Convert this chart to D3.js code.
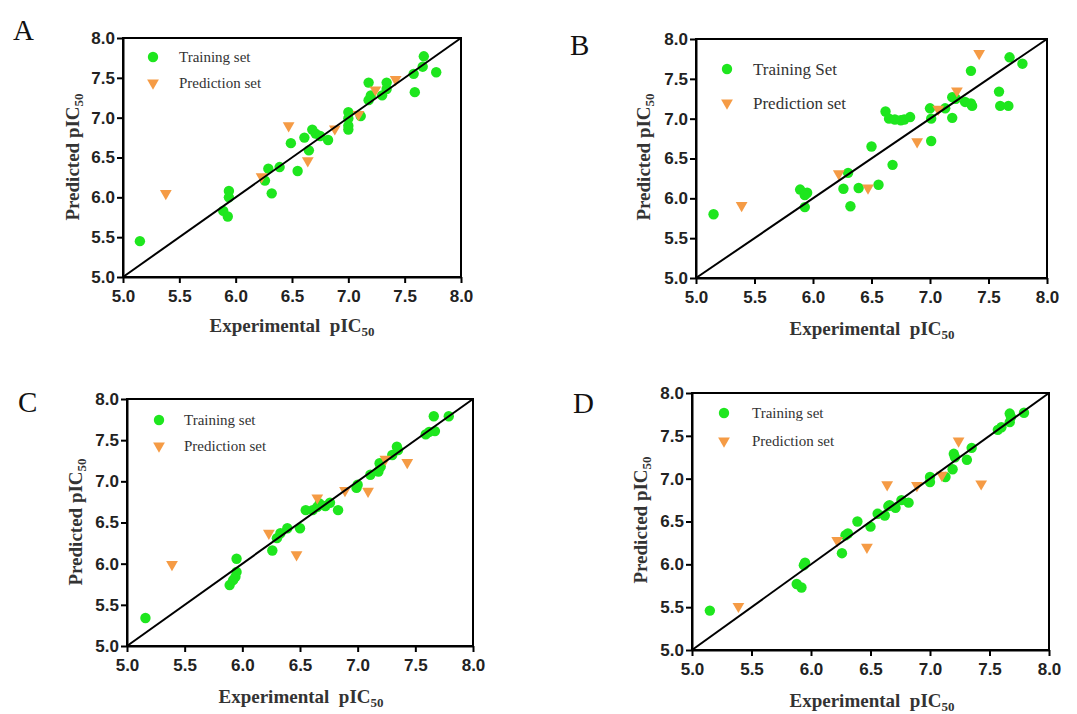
<!DOCTYPE html>
<html>
<head>
<meta charset="utf-8">
<script src="https://cdn.jsdelivr.net/npm/d3@7"></script>
<style>
  body { margin:0; background:#fff; }
  .tick text { font-family: "Liberation Sans", Arial, sans-serif; font-weight:bold; font-size:17px; fill:#222; }
  .domain, .tick line { stroke:#000; stroke-width:2px; }
</style>
</head>
<body>
<svg id="chart" width="1077" height="714"></svg>
<script>
// tick values shared by all four panels
const ticks = [5.0, 5.5, 6.0, 6.5, 7.0, 7.5, 8.0];

// panel A [experimental, predicted]
const trainA = [[5.15,5.45],[5.94,6.08],[5.94,6.0],[5.89,5.83],[5.93,5.76],[6.26,6.21],[6.29,6.36],[6.32,6.05],
  [6.39,6.38],[6.49,6.68],[6.55,6.33],[6.61,6.75],[6.65,6.59],[6.68,6.85],[6.71,6.8],[6.75,6.77],[6.82,6.72],
  [7.0,7.07],[7.0,6.99],[7.0,6.9],[7.0,6.85],[7.11,7.02],[7.18,7.44],[7.18,7.22],[7.2,7.28],[7.3,7.28],
  [7.34,7.44],[7.34,7.36],[7.58,7.55],[7.59,7.32],[7.67,7.77],[7.66,7.64],[7.78,7.57]];
const predA = [[5.38,6.05],[6.23,6.26],[6.47,6.9],[6.64,6.46],[6.88,6.86],[7.09,7.04],[7.24,7.35],[7.42,7.48]];

// panel B
const trainB = [[5.15,5.8],[5.89,6.11],[5.95,6.07],[5.93,6.04],[5.93,5.89],[6.26,6.12],[6.3,6.32],[6.32,5.9],
  [6.39,6.13],[6.5,6.65],[6.56,6.17],[6.62,7.09],[6.65,7.0],[6.68,6.42],[6.7,6.99],[6.75,6.98],[6.78,6.99],
  [6.83,7.02],[7.0,7.13],[7.01,7.0],[7.01,6.72],[7.13,7.13],[7.19,7.01],[7.19,7.27],[7.22,7.25],[7.3,7.21],
  [7.35,7.6],[7.36,7.16],[7.35,7.19],[7.59,7.34],[7.6,7.16],[7.67,7.16],[7.68,7.77],[7.79,7.69]];
const predB = [[5.39,5.91],[6.22,6.31],[6.47,6.13],[6.89,6.71],[7.07,7.12],[7.23,7.35],[7.42,7.82]];

// panel C
const trainC = [[5.16,5.34],[5.89,5.74],[5.92,5.8],[5.94,5.84],[5.95,5.9],[5.95,6.06],[6.26,6.16],[6.3,6.31],
  [6.33,6.37],[6.39,6.43],[6.5,6.43],[6.55,6.65],[6.61,6.65],[6.65,6.69],[6.67,6.73],[6.72,6.7],[6.76,6.74],
  [6.83,6.65],[6.99,6.92],[7.0,6.96],[7.11,7.08],[7.18,7.12],[7.2,7.18],[7.19,7.22],[7.3,7.32],[7.34,7.42],
  [7.35,7.38],[7.59,7.57],[7.62,7.6],[7.66,7.79],[7.67,7.61],[7.79,7.79]];
const predC = [[5.39,5.99],[6.23,6.37],[6.47,6.11],[6.65,6.8],[6.89,6.89],[7.09,6.88],[7.24,7.27],[7.43,7.23]];

// panel D
const trainD = [[5.15,5.46],[5.88,5.77],[5.92,5.73],[5.94,5.99],[5.95,6.02],[6.26,6.13],[6.29,6.34],[6.31,6.36],
  [6.39,6.5],[6.5,6.44],[6.56,6.59],[6.62,6.57],[6.65,6.68],[6.66,6.69],[6.71,6.66],[6.76,6.75],[6.82,6.72],
  [7.0,7.02],[7.0,6.96],[7.13,7.02],[7.19,7.11],[7.2,7.29],[7.21,7.25],[7.31,7.22],[7.35,7.36],[7.57,7.57],
  [7.6,7.6],[7.67,7.66],[7.67,7.76],[7.68,7.72],[7.79,7.77]];
const predD = [[5.39,5.51],[6.22,6.28],[6.47,6.2],[6.64,6.93],[6.89,6.92],[7.1,7.04],[7.24,7.44],[7.43,6.94]];

const panelLetters = ["A", "B", "C", "D"];
const trainLabels = ["Training set", "Training Set", "Training set", "Training set"];
const predLabel = "Prediction set";

const GREEN = "#1ee61e", ORANGE = "#f59b45";

const svg = d3.select("#chart");

// layout for each panel
const panels = [
  { train: trainA, pred: predA, x0:123, x1:461, y0:38,  y1:277, letter:[13,40],  leg:[153,57,26,179,15],
    xt:[292,332], yt:[72,157] },
  { train: trainB, pred: predB, x0:696, x1:1047, y0:39, y1:278, letter:[570,55], leg:[727,69,34,753,17],
    xt:[872,335], yt:[643,157] },
  { train: trainC, pred: predC, x0:127, x1:473, y0:399, y1:646, letter:[18,412], leg:[159,420,26,184,15],
    xt:[301,703], yt:[75,522] },
  { train: trainD, pred: predD, x0:692, x1:1049, y0:393, y1:650, letter:[573,413], leg:[724,413,28,752,15],
    xt:[872,707], yt:[640,520] }
];

const tri = d3.symbol().type(d3.symbolTriangle).size(60);

panels.forEach((p, i) => {
  const x = d3.scaleLinear().domain([5, 8]).range([p.x0, p.x1]);
  const y = d3.scaleLinear().domain([5, 8]).range([p.y1, p.y0]);
  const g = svg.append("g");

  // frame
  g.append("rect").attr("x", p.x0).attr("y", p.y0).attr("width", p.x1 - p.x0).attr("height", p.y1 - p.y0)
    .attr("fill", "none").attr("stroke", "#000").attr("stroke-width", 2);

  g.append("g").attr("transform", `translate(0,${p.y1})`)
    .call(d3.axisBottom(x).tickValues(ticks).tickFormat(d3.format(".1f")).tickSize(6).tickPadding(7).tickSizeOuter(0));
  g.append("g").attr("transform", `translate(${p.x0},0)`)
    .call(d3.axisLeft(y).tickValues(ticks).tickFormat(d3.format(".1f")).tickSize(6).tickPadding(2).tickSizeOuter(0));

  // points
  g.append("g").selectAll("circle").data(p.train).enter().append("circle")
    .attr("cx", d => x(d[0])).attr("cy", d => y(d[1])).attr("r", 5.2).attr("fill", GREEN);
  g.append("g").selectAll("path").data(p.pred).enter().append("path")
    .attr("d", tri).attr("transform", d => `translate(${x(d[0])},${y(d[1])}) rotate(180)`).attr("fill", ORANGE);

  // y = x line
  g.append("line").attr("x1", x(5)).attr("y1", y(5)).attr("x2", x(8)).attr("y2", y(8))
    .attr("stroke", "#000").attr("stroke-width", 2);

  // legend
  const [lx, ly, lgap, tx, fs] = p.leg;
  g.append("circle").attr("cx", lx).attr("cy", ly).attr("r", 5.2).attr("fill", GREEN);
  g.append("path").attr("d", tri).attr("transform", `translate(${lx},${ly + lgap}) rotate(180)`).attr("fill", ORANGE);
  g.append("text").attr("x", tx).attr("y", ly).attr("dy", "0.35em").style("font-family", "Liberation Serif, Times New Roman, serif")
    .style("font-size", fs + "px").style("fill", "#333").text(trainLabels[i]);
  g.append("text").attr("x", tx).attr("y", ly + lgap).attr("dy", "0.35em").style("font-family", "Liberation Serif, Times New Roman, serif")
    .style("font-size", fs + "px").style("fill", "#333").text(predLabel);

  // axis titles
  const xtitle = g.append("text").attr("x", p.xt[0]).attr("y", p.xt[1]).attr("text-anchor", "middle")
    .style("font-family", "Liberation Serif, Times New Roman, serif").style("font-weight", "bold").style("font-size", "19px").style("fill", "#333");
  xtitle.append("tspan").text("Experimental\u00a0\u00a0pIC");
  xtitle.append("tspan").attr("dy", 4).style("font-size", "13px").text("50");

  const ytitle = g.append("text").attr("transform", `translate(${p.yt[0]},${p.yt[1]}) rotate(-90)`).attr("text-anchor", "middle")
    .attr("dy", "0.35em")
    .style("font-family", "Liberation Serif, Times New Roman, serif").style("font-weight", "bold").style("font-size", "19px").style("fill", "#333");
  ytitle.append("tspan").text("Predicted pIC");
  ytitle.append("tspan").attr("dy", 4).style("font-size", "13px").text("50");

  // panel letter
  g.append("text").attr("x", p.letter[0]).attr("y", p.letter[1])
    .style("font-family", "Liberation Serif, Times New Roman, serif").style("font-size", "29px").style("fill", "#111")
    .text(panelLetters[i]);
});
</script>
</body>
</html>
